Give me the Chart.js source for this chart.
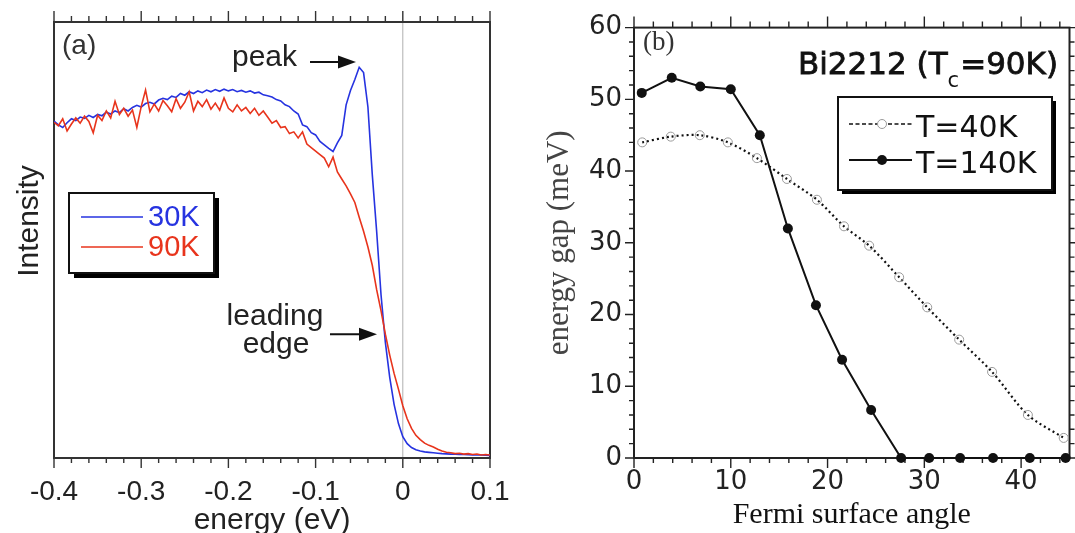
<!DOCTYPE html>
<html><head><meta charset="utf-8">
<script src="https://cdn.jsdelivr.net/npm/chart.js@4.4.1/dist/chart.umd.min.js"></script>
<style>
html,body{margin:0;padding:0;background:#fff;overflow:hidden;width:1075px;height:533px}
#ca{position:absolute;left:0;top:0}
#cb{position:absolute;left:540px;top:0}
</style></head><body>
<canvas id="ca" width="540" height="560"></canvas>
<canvas id="cb" width="535" height="560"></canvas>
<script>
// ---------- Panel (a): ARPES spectra ----------
const energy = [
-0.400,-0.395,-0.390,-0.385,-0.380,-0.375,-0.370,-0.365,-0.360,-0.355,
-0.350,-0.345,-0.340,-0.335,-0.330,-0.325,-0.320,-0.315,-0.310,-0.305,
-0.300,-0.295,-0.290,-0.285,-0.280,-0.275,-0.270,-0.265,-0.260,-0.255,
-0.250,-0.245,-0.240,-0.235,-0.230,-0.225,-0.220,-0.215,-0.210,-0.205,
-0.200,-0.195,-0.190,-0.185,-0.180,-0.175,-0.170,-0.165,-0.160,-0.155,
-0.150,-0.145,-0.140,-0.135,-0.130,-0.125,-0.120,-0.115,-0.110,-0.105,
-0.100,-0.095,-0.090,-0.085,-0.080,-0.075,-0.070,-0.065,-0.060,-0.055,
-0.050,-0.045,-0.040,-0.035,-0.030,-0.025,-0.020,-0.015,-0.010,-0.005,
0.000,0.005,0.010,0.015,0.020,0.025,0.030,0.035,0.040,0.045,
0.050,0.055,0.060,0.065,0.070,0.075,0.080,0.085,0.090,0.095,
0.100];
const intensity30K = [
77.3,76.4,75.8,76.9,77.8,77.4,78.2,77.9,78.6,78.1,
78.8,78.5,79.3,78.9,79.6,79.2,80.1,79.6,80.4,80.9,
80.5,81.3,81.6,81.2,82.1,82.5,82.2,83.0,82.7,83.6,
83.2,84.0,83.6,84.2,83.8,84.4,84.0,84.5,84.1,84.6,
84.2,84.5,84.0,84.3,83.9,84.2,83.7,83.9,83.3,83.1,
82.8,82.2,81.9,81.0,80.6,79.6,78.9,76.4,76.0,74.6,
74.1,72.6,71.8,71.0,70.3,72.3,74.0,81.0,84.3,86.8,
89.6,88.4,80.5,65.0,52.0,37.5,26.5,18.5,12.3,7.9,
4.9,3.3,2.4,1.9,1.6,1.4,1.3,1.2,1.1,1.0,
0.95,0.9,0.85,0.8,0.8,0.75,0.7,0.7,0.7,0.65,
0.6];
const intensity90K = [
77.0,76.2,77.8,75.0,76.6,78.0,76.8,78.4,77.2,74.6,
78.6,77.4,79.6,78.0,81.8,78.8,80.2,78.4,79.8,75.8,
80.6,84.4,79.4,81.2,79.6,82.0,80.8,79.4,82.4,80.2,
81.6,84.0,79.6,81.8,80.6,82.2,80.0,81.4,79.8,82.6,
80.2,79.4,81.0,79.6,80.4,79.0,80.2,78.6,79.6,78.2,
76.8,77.4,75.8,76.0,74.4,74.8,73.4,74.8,72.0,71.2,
70.4,69.6,68.8,66.8,69.0,65.6,64.0,62.4,60.6,58.6,
55.2,52.0,48.4,44.2,38.6,33.8,28.4,23.6,19.4,15.8,
12.0,9.0,6.8,5.2,4.2,3.4,2.9,2.5,2.0,1.6,
1.3,1.2,1.0,1.1,0.9,1.0,0.8,0.9,0.7,0.8,
0.7];
const energyTicks = [-0.4,-0.3,-0.2,-0.1,0,0.1];

// ---------- Panel (b): gap vs Fermi surface angle ----------
const angle40K  = [0.85,3.8,6.8,9.7,12.7,15.8,18.9,21.7,24.3,27.4,30.3,33.6,37.0,40.7,44.4];
const gap40K    = [44.0,44.8,45.0,44.0,41.8,38.9,36.0,32.3,29.6,25.2,21.0,16.5,12.0,6.0,2.8];
const angle140K = [0.8,3.9,6.85,10.0,13.0,15.9,18.8,21.5,24.5,27.6,30.5,33.7,37.1,40.9,44.6];
const gap140K   = [50.9,53.0,51.8,51.4,45.0,32.0,21.3,13.7,6.7,0,0,0,0,0,0];
const angleTicks = [0,10,20,30,40];
const gapTicks = [0,10,20,30,40,50,60];

const SANS = '"Liberation Sans", Arial, sans-serif';
const DEJA = '"DejaVu Sans", sans-serif';
const SERIF = '"Liberation Serif", "Times New Roman", serif';
const BLUE = '#2633e0';
const RED = '#e8341c';

function tickFrame(chart, o) {
  const {ctx, chartArea: a} = chart;
  const xs = chart.scales.x, ys = chart.scales.y;
  const isMajor = (v, step) => Math.abs(v / step - Math.round(v / step)) < 1e-6;
  ctx.save();
  ctx.strokeStyle = o.color;
  ctx.lineWidth = o.tickWidth;
  ctx.beginPath();
  const nx = Math.round((xs.max - xs.min) / o.xMinor);
  for (let i = 0; i <= nx; i++) {
    const v = xs.min + i * o.xMinor;
    const p = xs.getPixelForValue(v);
    const m = isMajor(v, o.xMajor);
    ctx.moveTo(p, a.top); ctx.lineTo(p, a.top - (m ? o.topMajor : o.topMinor));
    ctx.moveTo(p, a.bottom); ctx.lineTo(p, a.bottom + (m ? o.botMajor : o.botMinor));
  }
  if (o.yMinor) {
    const ny = Math.round((ys.max - ys.min) / o.yMinor);
    for (let i = 0; i <= ny; i++) {
      const v = ys.min + i * o.yMinor;
      const p = ys.getPixelForValue(v);
      const m = isMajor(v, o.yMajor);
      ctx.moveTo(a.left, p); ctx.lineTo(a.left - (m ? o.leftMajor : o.leftMinor), p);
      ctx.moveTo(a.right, p); ctx.lineTo(a.right + (m ? o.rightMajor : o.rightMinor), p);
    }
  }
  ctx.stroke();
  ctx.lineWidth = o.frameWidth;
  ctx.strokeRect(a.left, a.top, a.right - a.left, a.bottom - a.top);
  ctx.restore();
}

function text(ctx, s, x, y, font, color, align, base) {
  ctx.font = font; ctx.fillStyle = color;
  ctx.textAlign = align || 'left'; ctx.textBaseline = base || 'alphabetic';
  ctx.fillText(s, x, y);
}

function arrow(ctx, x1, y, x2) {
  ctx.save();
  ctx.strokeStyle = '#111'; ctx.fillStyle = '#111'; ctx.lineWidth = 2;
  ctx.beginPath(); ctx.moveTo(x1, y); ctx.lineTo(x2 - 10, y); ctx.stroke();
  ctx.beginPath(); ctx.moveTo(x2, y); ctx.lineTo(x2 - 18, y - 6.5); ctx.lineTo(x2 - 18, y + 6.5); ctx.closePath(); ctx.fill();
  ctx.restore();
}

const decorA = {
  id: 'decorA',
  beforeDatasetsDraw(chart) {
    const {ctx, chartArea: a} = chart;
    const x0 = chart.scales.x.getPixelForValue(0);
    ctx.save();
    ctx.strokeStyle = '#b0b0b0'; ctx.lineWidth = 1;
    ctx.beginPath(); ctx.moveTo(x0, a.top); ctx.lineTo(x0, a.bottom); ctx.stroke();
    ctx.restore();
    tickFrame(chart, {color:'#333', tickWidth:1.4, frameWidth:2, xMinor:0.02, xMajor:0.1,
      topMajor:11, topMinor:6, botMajor:10, botMinor:5});
  },
  afterDraw(chart) {
    const ctx = chart.ctx;
    const xs = chart.scales.x, ys = chart.scales.y;
    ctx.save();
    text(ctx, '(a)', 62, 54, '28px ' + SANS, '#333');
    text(ctx, 'peak', 232, 66, '30px ' + SANS, '#222');
    arrow(ctx, xs.getPixelForValue(-0.1064), ys.getPixelForValue(90.8), xs.getPixelForValue(-0.0537));
    text(ctx, 'leading', 275, 325, '30px ' + SANS, '#222', 'center');
    text(ctx, 'edge', 276, 353, '30px ' + SANS, '#222', 'center');
    arrow(ctx, xs.getPixelForValue(-0.0835), ys.getPixelForValue(28.4), xs.getPixelForValue(-0.0296));
    // y-axis label
    ctx.save();
    ctx.translate(30, 221); ctx.rotate(-Math.PI / 2);
    text(ctx, 'Intensity', 0, 0, '30px ' + SANS, '#222', 'center', 'middle');
    ctx.restore();
    // legend
    ctx.fillStyle = '#000'; ctx.fillRect(74, 198, 145, 80);
    ctx.fillStyle = '#fff'; ctx.fillRect(69, 193, 145, 80);
    ctx.strokeStyle = '#111'; ctx.lineWidth = 2; ctx.strokeRect(69, 193, 145, 80);
    ctx.lineWidth = 1.6;
    ctx.strokeStyle = BLUE; ctx.beginPath(); ctx.moveTo(81, 217); ctx.lineTo(143, 217); ctx.stroke();
    ctx.strokeStyle = RED; ctx.beginPath(); ctx.moveTo(81, 247); ctx.lineTo(143, 247); ctx.stroke();
    text(ctx, '30K', 148, 226, '29px ' + SANS, BLUE);
    text(ctx, '90K', 148, 256, '29px ' + SANS, RED);
    ctx.restore();
  }
};

const decorB = {
  id: 'decorB',
  beforeDatasetsDraw(chart) {
    tickFrame(chart, {color:'#222', tickWidth:1.4, frameWidth:2, xMinor:2, xMajor:10, yMinor:2, yMajor:10,
      topMajor:11, topMinor:6, botMajor:10, botMinor:5, leftMajor:9, leftMinor:5, rightMajor:6, rightMinor:5});
  },
  afterDraw(chart) {
    const ctx = chart.ctx;
    ctx.save();
    text(ctx, '(b)', 103, 50, '27px ' + SERIF, '#333');
    // title Bi2212 (Tc=90K)
    const f1 = '31px ' + DEJA, f2 = '21px ' + DEJA;
    ctx.font = f1; const w1 = ctx.measureText('Bi2212 (T').width, w3 = ctx.measureText('=90K)').width;
    ctx.font = f2; const w2 = ctx.measureText('c').width;
    const x0 = 518 - (w1 + w2 + w3 + 1);
    ctx.strokeStyle = '#111'; ctx.lineWidth = 0.8;
    text(ctx, 'Bi2212 (T', x0, 74, f1, '#111'); ctx.strokeText('Bi2212 (T', x0, 74);
    text(ctx, 'c', x0 + w1, 87, f2, '#111');
    text(ctx, '=90K)', x0 + w1 + w2 + 1, 74, f1, '#111'); ctx.strokeText('=90K)', x0 + w1 + w2 + 1, 74);
    // legend
    ctx.fillStyle = '#000'; ctx.fillRect(302, 101, 214, 93);
    ctx.fillStyle = '#fff'; ctx.fillRect(298, 97, 214, 93);
    ctx.strokeStyle = '#111'; ctx.lineWidth = 2; ctx.strokeRect(298, 97, 214, 93);
    ctx.lineWidth = 1.5; ctx.strokeStyle = '#111';
    ctx.setLineDash([4, 2.5]);
    ctx.beginPath(); ctx.moveTo(309, 124); ctx.lineTo(372, 124); ctx.stroke();
    ctx.setLineDash([]);
    ctx.lineWidth = 2;
    ctx.beginPath(); ctx.moveTo(309, 160); ctx.lineTo(372, 160); ctx.stroke();
    ctx.fillStyle = '#fff'; ctx.strokeStyle = '#9a9a9a'; ctx.lineWidth = 1;
    ctx.beginPath(); ctx.arc(342, 124, 4.5, 0, Math.PI * 2); ctx.fill(); ctx.stroke();
    ctx.fillStyle = '#111';
    ctx.beginPath(); ctx.arc(342, 160, 5, 0, Math.PI * 2); ctx.fill();
    text(ctx, 'T=40K', 376, 137, '30px ' + DEJA, '#111');
    text(ctx, 'T=140K', 376, 173, '30px ' + DEJA, '#111');
    ctx.restore();
  }
};

const fmtE = v => (Math.abs(v) < 1e-9 ? '0' : v.toFixed(1));

new Chart(document.getElementById('ca'), {
  type: 'line',
  data: { datasets: [
    {label: '30K', data: energy.map((e, i) => ({x: e, y: intensity30K[i]})), borderColor: BLUE, borderWidth: 1.6, pointRadius: 0, tension: 0, order: 2},
    {label: '90K', data: energy.map((e, i) => ({x: e, y: intensity90K[i]})), borderColor: RED, borderWidth: 1.6, pointRadius: 0, tension: 0, order: 1}
  ]},
  options: {
    responsive: false, animation: false, events: [],
    layout: {padding: {left: 0, right: 50, top: 22, bottom: 0}},
    plugins: {legend: {display: false}, tooltip: {enabled: false}},
    scales: {
      x: {type: 'linear', min: -0.4, max: 0.1,
        afterFit: s => { s.height = 102; },
        afterBuildTicks: s => { s.ticks = energyTicks.map(v => ({value: v})); },
        grid: {display: false, drawTicks: false}, border: {display: false},
        ticks: {padding: 17, color: '#222', font: {family: SANS, size: 28}, maxRotation: 0, autoSkip: false, callback: v => fmtE(v)},
        title: {display: true, text: 'energy (eV)', color: '#222', font: {family: SANS, size: 30}, padding: {top: 0, bottom: 21}}},
      y: {type: 'linear', min: 0, max: 100,
        afterFit: s => { s.width = 54; },
        grid: {display: false, drawTicks: false}, border: {display: false}, ticks: {display: false}}
    }
  },
  plugins: [decorA]
});

new Chart(document.getElementById('cb'), {
  type: 'line',
  data: { datasets: [
    {label: 'T=40K', data: angle40K.map((a, i) => ({x: a, y: gap40K[i]})), borderColor: '#111', borderWidth: 2.2, borderDash: [2, 3],
      tension: 0.3, pointRadius: 4.5, pointBorderWidth: 1, pointBorderColor: '#9a9a9a', pointBackgroundColor: 'rgba(255,255,255,0)', clip: false, order: 2},
    {label: 'T=140K', data: angle140K.map((a, i) => ({x: a, y: gap140K[i]})), borderColor: '#111', borderWidth: 2,
      tension: 0, pointRadius: 5, pointBorderWidth: 0, pointBackgroundColor: '#111', clip: false, order: 1}
  ]},
  options: {
    responsive: false, animation: false, events: [],
    layout: {padding: {left: 0, right: 3, top: 22, bottom: 0}},
    plugins: {legend: {display: false}, tooltip: {enabled: false}},
    scales: {
      x: {type: 'linear', min: 0, max: 45,
        afterFit: s => { s.height = 102; },
        afterBuildTicks: s => { s.ticks = angleTicks.map(v => ({value: v})); },
        grid: {display: false, drawTicks: false}, border: {display: false},
        ticks: {padding: 9, color: '#222', font: {family: DEJA, size: 26}, maxRotation: 0, autoSkip: false},
        title: {display: true, text: 'Fermi surface angle', color: '#111', font: {family: SERIF, size: 30}, padding: {top: 0, bottom: 27}}},
      y: {type: 'linear', min: 0, max: 60,
        afterFit: s => { s.width = 94; },
        afterBuildTicks: s => { s.ticks = gapTicks.map(v => ({value: v})); },
        grid: {display: false, drawTicks: false}, border: {display: false},
        ticks: {padding: 12, color: '#222', font: {family: DEJA, size: 26}, autoSkip: false},
        title: {display: true, text: 'energy gap (meV)', color: '#444', font: {family: SERIF, size: 31, lineHeight: 1}, padding: {top: 4, bottom: 0}}}
    }
  },
  plugins: [decorB]
});
</script>
</body></html>
